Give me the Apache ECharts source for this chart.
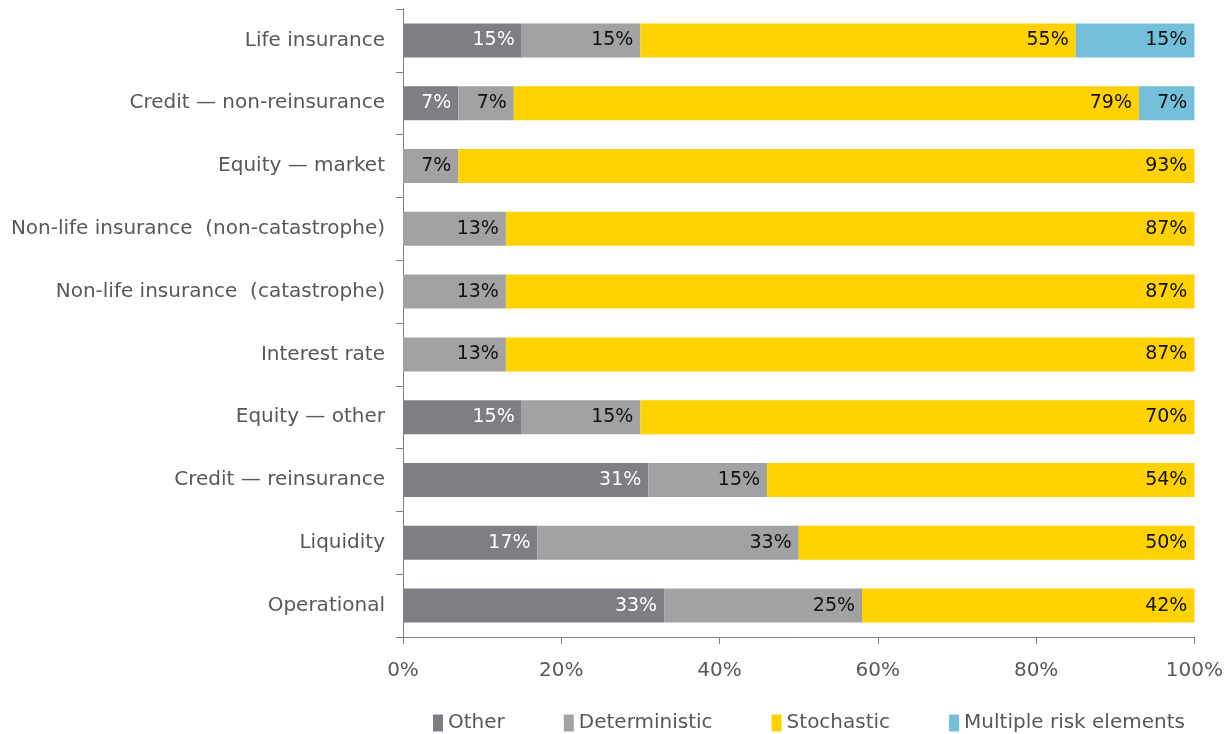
<!DOCTYPE html>
<html>
<head>
<meta charset="utf-8">
<script src="https://cdn.jsdelivr.net/npm/echarts@6/dist/echarts.min.js"></script>
<style>
  html, body { margin: 0; padding: 0; background: #fff; }
  #chart { width: 1226px; height: 734px; }
</style>
</head>
<body>
<div id="chart"></div>
<script>
// Risk categories, listed top to bottom
const categories = [
  'Life insurance',
  'Credit — non-reinsurance',
  'Equity — market',
  'Non-life insurance  (non-catastrophe)',
  'Non-life insurance  (catastrophe)',
  'Interest rate',
  'Equity — other',
  'Credit — reinsurance',
  'Liquidity',
  'Operational'
];

// Share of each approach per risk category (%), same order as categories
const other         = [15, 7, 0, 0, 0, 0, 15, 31, 17, 33];
const deterministic = [15, 7, 7, 13, 13, 13, 15, 15, 33, 25];
const stochastic    = [55, 79, 93, 87, 87, 87, 70, 54, 50, 42];
const multiple      = [15, 7, 0, 0, 0, 0, 0, 0, 0, 0];

const xTicks = [0, 20, 40, 60, 80, 100];

const FONT = '"DejaVu Sans", "Open Sans", sans-serif';
const GREY_TEXT = '#58585a';

function series(name, data, color, labelColor) {
  return {
    name: name,
    type: 'bar',
    stack: 'total',
    barWidth: 34,
    data: data.slice().reverse(),
    itemStyle: { color: color },
    label: {
      show: true,
      position: 'insideRight',
      distance: 7,
      fontFamily: FONT,
      fontSize: 19,
      color: labelColor,
      formatter: p => (p.value > 0 ? p.value + '%' : '')
    },
    emphasis: { disabled: true }
  };
}

const chart = echarts.init(document.getElementById('chart'));
chart.setOption({
  animation: false,
  textStyle: { fontFamily: FONT },
  grid: { left: 403, right: 31, top: 9, bottom: 97, containLabel: false },
  legend: {
    bottom: -4,
    left: 428,
    itemWidth: 10,
    itemHeight: 17,
    itemGap: 59,
    icon: 'rect',
    textStyle: { fontFamily: FONT, fontSize: 20, color: GREY_TEXT },
    data: ['Other', 'Deterministic', 'Stochastic', 'Multiple risk elements']
  },
  xAxis: {
    type: 'value',
    min: xTicks[0],
    max: xTicks[xTicks.length - 1],
    interval: xTicks[1] - xTicks[0],
    axisLine: { show: true, lineStyle: { color: '#7f7f7f' } },
    axisTick: { show: true, length: 7, lineStyle: { color: '#7f7f7f' } },
    splitLine: { show: false },
    axisLabel: {
      margin: 24,
      fontFamily: FONT,
      fontSize: 20,
      color: GREY_TEXT,
      formatter: v => v + '%'
    }
  },
  yAxis: {
    type: 'category',
    data: categories.slice().reverse(),
    axisLine: { show: true, lineStyle: { color: '#7f7f7f' } },
    axisTick: { show: true, length: 7, alignWithLabel: false, lineStyle: { color: '#7f7f7f' } },
    axisLabel: {
      margin: 18,
      fontFamily: FONT,
      fontSize: 20,
      color: GREY_TEXT
    }
  },
  series: [
    series('Other', other, '#7f7e84', '#ffffff'),
    series('Deterministic', deterministic, '#a2a2a4', '#111111'),
    series('Stochastic', stochastic, '#ffd200', '#111111'),
    series('Multiple risk elements', multiple, '#74bfd9', '#111111')
  ]
});
</script>
</body>
</html>
